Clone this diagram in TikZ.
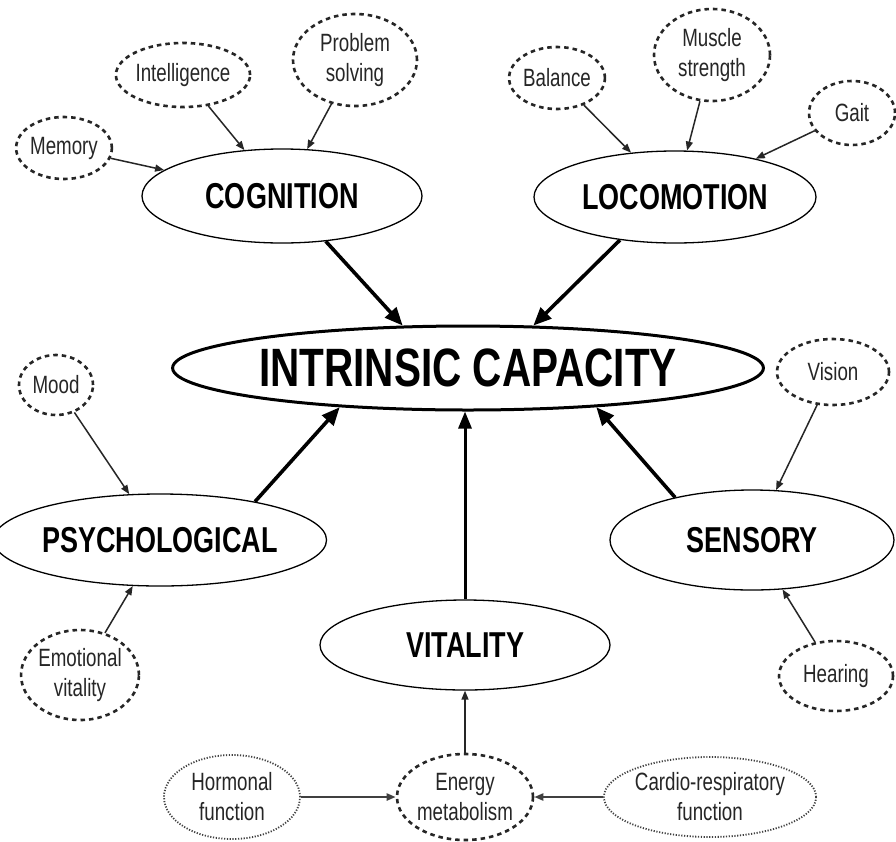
\documentclass[tikz,border=0pt]{standalone}
\usepackage{fontspec}
\setmainfont{Liberation Sans}[FakeStretch=0.75]
\usetikzlibrary{arrows.meta,shapes.geometric}
\begin{document}
\begin{tikzpicture}[x=1pt,y=-1pt,
  cat/.style={ellipse,draw=black,line width=1.3pt,inner sep=0pt,font=\fontsize{36}{40}\selectfont\bfseries},
  main/.style={ellipse,draw=black,line width=3pt,inner sep=0pt,font=\fontsize{54}{58}\selectfont\bfseries},
  sub/.style={ellipse,draw=black!85,line width=2.6pt,dash pattern=on 4.5pt off 4pt,inner sep=0pt,align=center,text=black!85,font=\fontsize{25}{30}\selectfont},
  subdot/.style={ellipse,draw=black!75,line width=1.8pt,dash pattern=on 1.2pt off 1.6pt,inner sep=0pt,align=center,text=black!85,font=\fontsize{25}{30}\selectfont},
  thin/.style={line width=1.5pt,draw=black!85,-{Triangle[length=9pt,width=7pt]}},
  thick/.style={line width=3.6pt,-{Triangle[length=18pt,width=15pt]}},
  mid/.style={line width=2.2pt,draw=black!75,-{Triangle[length=9pt,width=7pt]}}
]
\useasboundingbox (0,0) rectangle (896,841);
\fill[white] (0,0) rectangle (896,841);
% main
\node[main,minimum width=452pt,minimum height=84pt] (ic) at (468,368) {INTRINSIC CAPACITY};
% categories
\node[cat,minimum width=280pt,minimum height=94pt] (cog) at (282,196) {COGNITION};
\node[cat,minimum width=282pt,minimum height=92pt] (loco) at (675,197) {LOCOMOTION};
\node[cat,minimum width=300pt,minimum height=92pt] (psych) at (160,540) {PSYCHOLOGICAL};
\node[cat,minimum width=284pt,minimum height=100pt] (sens) at (752,540) {SENSORY};
\node[cat,minimum width=290pt,minimum height=90pt] (vit) at (465,645) {VITALITY};
% sub factors
\node[sub,minimum width=92pt,minimum height=62pt] (memory) at (64,148) {Memory};
\node[sub,minimum width=122pt,minimum height=64pt] (intel) at (183,75) {Intelligence};
\node[sub,minimum width=124pt,minimum height=92pt] (prob) at (355,60) {Problem\\solving};
\node[sub,minimum width=94pt,minimum height=62pt] (bal) at (557,78) {Balance};
\node[sub,minimum width=116pt,minimum height=92pt] (musc) at (712,55) {Muscle\\strength};
\node[sub,minimum width=86pt,minimum height=64pt] (gait) at (852,113) {Gait};
\node[sub,minimum width=74pt,minimum height=60pt] (mood) at (56,385) {Mood};
\node[sub,minimum width=112pt,minimum height=90pt] (emo) at (80,675) {Emotional\\vitality};
\node[sub,minimum width=112pt,minimum height=66pt] (vision) at (833,372) {Vision};
\node[sub,minimum width=114pt,minimum height=70pt] (hear) at (836,676) {Hearing};
\node[sub,minimum width=136pt,minimum height=86pt] (energy) at (465,797) {Energy\\metabolism};
\node[subdot,minimum width=136pt,minimum height=84pt] (horm) at (232,797) {Hormonal\\function};
\node[subdot,minimum width=210pt,minimum height=80pt] (cardio) at (710,797) {Cardio-respiratory\\function};
% thin arrows
\draw[thin] (memory) -- (cog);
\draw[thin] (intel) -- (cog);
\draw[thin] (prob) -- (cog);
\draw[thin] (bal) -- (loco);
\draw[thin] (musc) -- (loco);
\draw[thin] (gait) -- (loco);
\draw[thin] (mood) -- (psych);
\draw[thin] (emo) -- (psych);
\draw[thin] (vision) -- (sens);
\draw[thin] (hear) -- (sens);
\draw[thin] (energy) -- (vit);
\draw[mid] (horm) -- (energy);
\draw[mid] (cardio) -- (energy);
% thick arrows
\draw[thick] (cog.-46) -- (ic.147);
\draw[thick] (loco.218) -- (ic.33);
\draw[thick] (psych.22) -- (ic.197);
\draw[thick] (sens.151) -- (ic.-17);
\draw[line width=3pt,-{Triangle[length=17pt,width=13pt]}] (vit.north) -- (vit.north |- ic.south);
\end{tikzpicture}
\end{document}
